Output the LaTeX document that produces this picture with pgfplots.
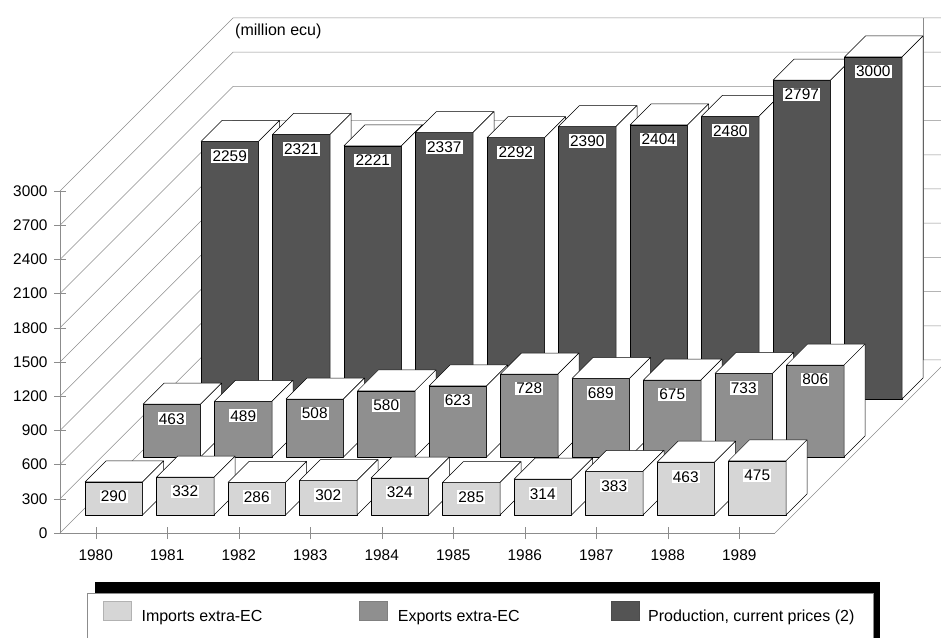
\documentclass[border=0pt]{standalone}
\usepackage{pgfplots}
\pgfplotsset{compat=1.18}
\usepackage{pgfplotstable}
\usepackage{fontspec}
\setmainfont{Liberation Sans}

\pgfdeclareplotmark{none3d}{}

\pgfplotstableread{
yr v
0 290
1 332
2 286
3 302
4 324
5 285
6 314
7 383
8 463
9 475
}\imports
\pgfplotstableread{
yr v
0 463
1 489
2 508
3 580
4 623
5 728
6 689
7 675
8 733
9 806
}\exports
\pgfplotstableread{
yr v
0 2259
1 2321
2 2221
3 2337
4 2292
5 2390
6 2404
7 2480
8 2797
9 3000
}\production

\definecolor{impc}{gray}{0.84}
\definecolor{expc}{gray}{0.56}
\definecolor{proc}{gray}{0.33}
\definecolor{gridc}{gray}{0.55}

\pgfplotsset{
  frontplane/.style={
    at={(60pt,104pt)}, anchor=south west,
    x=71.5pt, y=0.114pt,
    xmin=-0.5, xmax=9.5, ymin=0, ymax=3000,
    clip=false,
  },
  box3d/.style 2 args={
    only marks, mark=none3d, scatter, forget plot,
    visualization depends on={rawy \as \val},
    scatter/@pre marker code/.code={%
      \pgfmathsetmacro\h{\val*0.114}%
      \pgfmathsetmacro\hb{21-\h}%
      \pgfmathtruncatemacro\vi{round(\val)}%
      \begin{scope}[line width=0.5pt, line join=round]
        \pgftransformshift{\pgfpoint{#2pt}{#2pt}}%
        \filldraw[fill=#1, draw=black] (-28.75pt,-\h pt) rectangle (28.75pt,0pt);
        \filldraw[fill=white, draw=black] (-28.75pt,0pt) -- (-7.75pt,21pt) -- (49.75pt,21pt) -- (28.75pt,0pt) -- cycle;
        \filldraw[fill=white, draw=black] (28.75pt,0pt) -- (49.75pt,21pt) -- (49.75pt,\hb pt) -- (28.75pt,-\h pt) -- cycle;
        \node[fill=white, inner sep=1.2pt, font=\fontsize{15.4}{17}\selectfont] at (0pt,-14.5pt) {\vi};
      \end{scope}
    },
    scatter/@post marker code/.code={},
  },
}

\begin{document}
\begin{tikzpicture}
\path[use as bounding box] (0pt,0pt) rectangle (941pt,637pt);

% walls, floor, ticks
\begin{axis}[
  frontplane,
  axis lines=left,
  axis line style={-, gridc, line width=0.5pt},
  xtick={0,1,2,3,4,5,6,7,8,9},
  xticklabels={1980,1981,1982,1983,1984,1985,1986,1987,1988,1989},
  ytick={0,300,...,3000},
  tick align=center, major tick length=12pt,
  tick style={gridc, line width=0.5pt},
  ticklabel style={font=\fontsize{15.4}{17}\selectfont},
  xticklabel style={yshift=-7pt},
  yticklabel style={xshift=-3pt},
  /pgf/number format/assume math mode=true,
  /pgf/number format/1000 sep={},
]
\pgfplotsinvokeforeach{0,300,...,3000}{
  \draw[gridc, line width=0.5pt] (axis cs:-0.5,#1) -- ++(173pt,173pt) -- ++(720pt,0pt);
}
\draw[gridc, line width=0.5pt] (axis cs:9.5,0) -- ++(173pt,173pt);
\draw[gridc, line width=0.5pt] (axis cs:-0.5,0) ++(863pt,173pt) -- ++(0pt,342pt);
\node[anchor=west, font=\fontsize{16}{18}\selectfont, inner sep=0pt] at ([shift={(175pt,159.7pt)}]axis cs:-0.5,3000) {(million ecu)};
\end{axis}

% legend frame
\fill[black] (95pt,-5pt) rectangle (880pt,55pt);
\filldraw[fill=white, draw=gridc, line width=0.5pt] (87pt,-5pt) rectangle (873pt,44pt);

% bars
\begin{axis}[
  frontplane,
  hide axis,
  legend columns=3,
  legend image code/.code={\draw[#1, line width=0.4pt] (0pt,-4pt) rectangle (28pt,15pt);},
  legend style={
    at={(axis description cs:0.0601,-0.231)}, anchor=west,
    draw=none, fill=none, inner sep=0pt,
    nodes={inner sep=0pt, font=\fontsize{16}{18}\selectfont},
    /tikz/column 1/.style={column sep=10pt},
    /tikz/column 2/.style={column sep=97pt},
    /tikz/column 3/.style={column sep=10pt},
    /tikz/column 4/.style={column sep=91pt},
    /tikz/column 5/.style={column sep=9pt},
  },
]
\addlegendimage{fill=impc, draw=gray!60}
\addlegendentry{Imports extra-EC}
\addlegendimage{fill=expc, draw=gray}
\addlegendentry{Exports extra-EC}
\addlegendimage{fill=proc, draw=black!70}
\addlegendentry{Production, current prices (2)}

\addplot[box3d={proc}{134}] table[x=yr, y=v] {\production};
\addplot[box3d={expc}{76}] table[x=yr, y=v] {\exports};
\addplot[box3d={impc}{18}] table[x=yr, y=v] {\imports};
\end{axis}
\end{tikzpicture}
\end{document}
